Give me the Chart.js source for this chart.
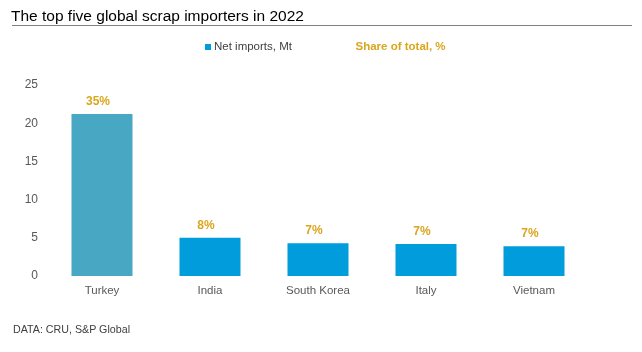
<!DOCTYPE html>
<html>
<head>
<meta charset="utf-8">
<script src="https://cdn.jsdelivr.net/npm/chart.js@4/dist/chart.umd.min.js"></script>
<style>
  body { margin: 0; width: 642px; height: 352px; background: #fff; font-family: "Liberation Sans", Arial, sans-serif; position: relative; overflow: hidden; }
  #wrap { position: absolute; left: 0; top: 0; width: 642px; height: 352px; }
  .txt { position: absolute; white-space: nowrap; line-height: 1; }
  #title { left: 11px; top: 8px; font-size: 15.5px; color: #000; }
  #rule { position: absolute; left: 12px; top: 24.5px; width: 620px; height: 1.5px; background: #7f7f7f; }
  #leg1box { position: absolute; left: 205px; top: 44px; width: 6px; height: 6px; background: #009cdb; }
  #leg1 { left: 214px; top: 41.3px; font-size: 11.5px; color: #404040; }
  #leg2 { left: 355.5px; top: 41px; font-size: 11.5px; font-weight: bold; color: #dba61d; }
  #source { left: 13px; top: 324px; font-size: 10.7px; color: #404040; }
</style>
</head>
<body>
<div id="wrap"><canvas id="grafico" width="642" height="352"></canvas></div>
<div class="txt" id="title">The top five global scrap importers in 2022</div>
<div id="rule"></div>
<div id="leg1box"></div>
<div class="txt" id="leg1">Net imports, Mt</div>
<div class="txt" id="leg2">Share of total, %</div>
<div class="txt" id="source">DATA: CRU, S&amp;P Global</div>
<script>
// dados
const paises = ["Turkey", "India", "South Korea", "Italy", "Vietnam"];
const importacoes = [21.2, 5.0, 4.3, 4.2, 3.9];
const participacao = [35, 8, 7, 7, 7];
const ticksY = [0, 5, 10, 15, 20, 25];

const corTexto = "#595959";
const corDourado = "#dba61d";

// rótulos de % acima das barras
const rotulosPct = {
  id: "rotulosPct",
  afterDatasetsDraw(chart) {
    const ctx = chart.ctx;
    const meta = chart.getDatasetMeta(0);
    ctx.save();
    ctx.font = "bold 12px 'Liberation Sans', Arial, sans-serif";
    ctx.fillStyle = corDourado;
    ctx.textAlign = "center";
    ctx.textBaseline = "middle";
    meta.data.forEach((bar, i) => {
      ctx.fillText(participacao[i] + "%", bar.x - 4, bar.y - 12.5);
    });
    ctx.restore();
  }
};

new Chart(document.getElementById("grafico"), {
  type: "bar",
  data: {
    labels: paises,
    datasets: [{
      label: "Net imports, Mt",
      data: importacoes,
      backgroundColor: paises.map((p, i) => i === 0 ? "#48a8c4" : "#009cdb"),
      categoryPercentage: 1,
      barPercentage: 0.565
    }]
  },
  options: {
    responsive: false,
    animation: false,
    layout: { padding: { top: 85, left: 0, right: 54, bottom: 46 } },
    plugins: {
      legend: { display: false },
      title: { display: false },
      tooltip: { enabled: false }
    },
    scales: {
      x: {
        grid: { display: false, drawTicks: false },
        border: { display: false },
        ticks: { color: corTexto, font: { size: 11.5, family: "'Liberation Sans', Arial, sans-serif" }, padding: 8 },
        afterFit: s => { s.height = 30; }
      },
      y: {
        min: 0,
        max: 25,
        grid: { display: false, drawTicks: false },
        border: { display: false },
        afterBuildTicks: s => { s.ticks = ticksY.map(v => ({ value: v })); },
        ticks: { color: corTexto, font: { size: 12, family: "'Liberation Sans', Arial, sans-serif" }, padding: 10 },
        afterFit: s => { s.width = 48; }
      }
    }
  },
  plugins: [rotulosPct]
});
</script>
</body>
</html>
